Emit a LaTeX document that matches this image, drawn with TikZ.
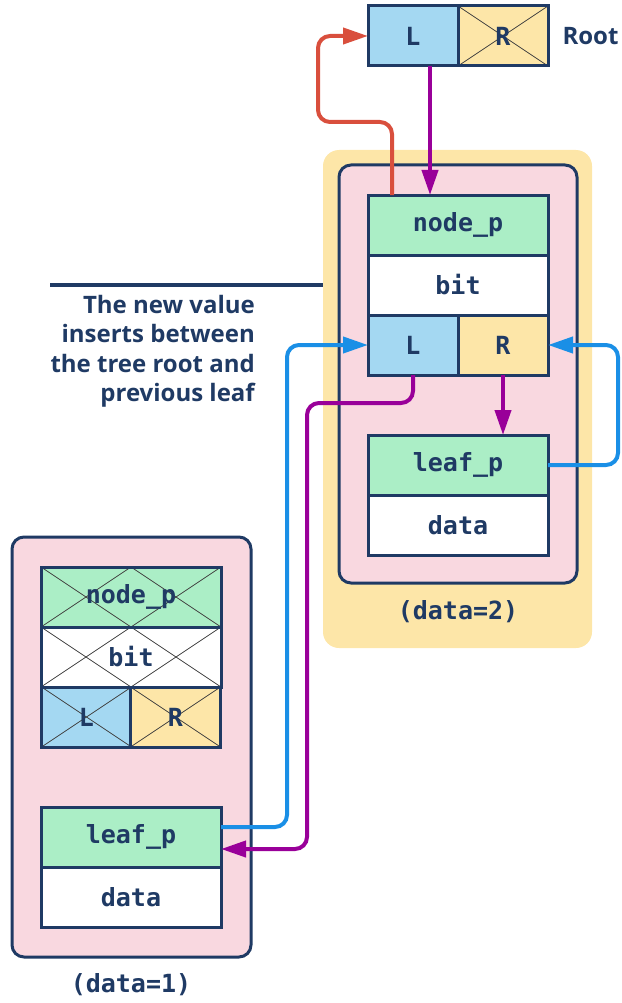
\documentclass[tikz,border=0pt]{standalone}
\usepackage{fontspec}
\setmainfont{Open Sans}
\newfontfamily\codefont{DejaVu Sans Mono}
\usetikzlibrary{arrows.meta}
\definecolor{navy}{HTML}{1F3A64}
\definecolor{cellgreen}{HTML}{ABEEC6}
\definecolor{cellblue}{HTML}{A4D8F2}
\definecolor{cellyellow}{HTML}{FDE6A8}
\definecolor{boxpink}{HTML}{F9D8E0}
\definecolor{linkred}{HTML}{D94F3D}
\definecolor{linkpurple}{HTML}{990099}
\definecolor{linkblue}{HTML}{1A8FE6}

\tikzset{
  cell/.style={draw=navy, line width=3pt, inner sep=0pt, outer sep=0pt,
    minimum height=60pt, text=navy,
    font=\codefont\bfseries\fontsize{25}{29}\selectfont},
  wide/.style={cell, minimum width=180pt},
  half/.style={cell, minimum width=90pt},
  crossline/.style={draw=black!75, line width=0.8pt},
  crossed/.style={path picture={
    \draw[crossline] (path picture bounding box.north west) -- (path picture bounding box.south east)
                     (path picture bounding box.north east) -- (path picture bounding box.south west);}},
  crossedwide/.style={path picture={
    \draw[crossline] (path picture bounding box.north west) -- (path picture bounding box.south)
                     (path picture bounding box.north) -- (path picture bounding box.south west)
                     (path picture bounding box.north) -- (path picture bounding box.south east)
                     (path picture bounding box.north east) -- (path picture bounding box.south);}},
  link/.style={line width=4pt, rounded corners=12pt,
    -{Triangle[length=25pt,width=16pt]}},
  plate/.style={draw=navy, line width=3pt, fill=boxpink, rounded corners=12pt},
  caption/.style={text=navy, font=\codefont\bfseries\fontsize{25}{29}\selectfont},
  note/.style={text=navy, font=\bfseries\fontsize{24}{29.5}\selectfont}
}

\begin{document}
\begin{tikzpicture}[x=1pt, y=-1pt]
\useasboundingbox (0,0) rectangle (621,1003);

% backgrounds of the two records
\fill[cellyellow, rounded corners=16pt] (323,150) rectangle (592,648);
\draw[plate] (339,165) rectangle (577,583);
\draw[plate] (12,537) rectangle (251,957);

% tree root
\node[half, fill=cellblue] (rL) at (413,36) {L};
\node[half, fill=cellyellow, crossed] (rR) at (503,36) {R};
\node[note, anchor=west] (root) at (559,36) {Root};

% new record (data=2)
\node[wide, fill=cellgreen] (np) at (458,225) {node\_p};
\node[wide, fill=white] (nbit) at (458,285) {bit};
\node[half, fill=cellblue] (nL) at (413,345) {L};
\node[half, fill=cellyellow] (nR) at (503,345) {R};
\node[wide, fill=cellgreen] (nleaf) at (458,465) {leaf\_p};
\node[wide, fill=white] (ndata) at (458,525) {data};
\node[caption] (ncap) at (458,612) {(data=2)};

% previous record (data=1)
\node[wide, fill=cellgreen, crossedwide] (op) at (131,597) {node\_p};
\node[wide, fill=white, crossedwide] (obit) at (131,657) {bit};
\node[half, fill=cellblue, crossed] (oL) at (86.5,717) {L};
\node[half, fill=cellyellow, crossed] (oR) at (175.5,717) {R};
\node[wide, fill=cellgreen] (oleaf) at (131,837) {leaf\_p};
\node[wide, fill=white] (odata) at (131,897) {data};
\node[caption] (ocap) at (131,985) {(data=1)};

% annotation
\draw[navy, line width=4pt] (50,285) -- (323,285);
\node[note, align=right, anchor=north east, inner sep=0pt] (remark) at (255,295)
  {The new value\\inserts between\\the tree root and\\previous leaf};

% pointers
\draw[link, linkred] ([xshift=-66pt]np.north) |- (318,122) |- (rL.west);
\draw[link, linkpurple] ([xshift=17pt]rL.south) -- ([xshift=17pt]rL.south |- np.north);
\draw[link, linkpurple] (nR.south) -- (nR.south |- nleaf.north);
\draw[link, linkpurple] (nL.south) |- (307,403) |- ([yshift=-12pt]oleaf.east);
\draw[link, linkblue] ([yshift=10pt]oleaf.east) -| (287,345) -- (nL.west);
\draw[link, linkblue] (nleaf.east) -| (618,345) -- (nR.east);
\end{tikzpicture}
\end{document}
